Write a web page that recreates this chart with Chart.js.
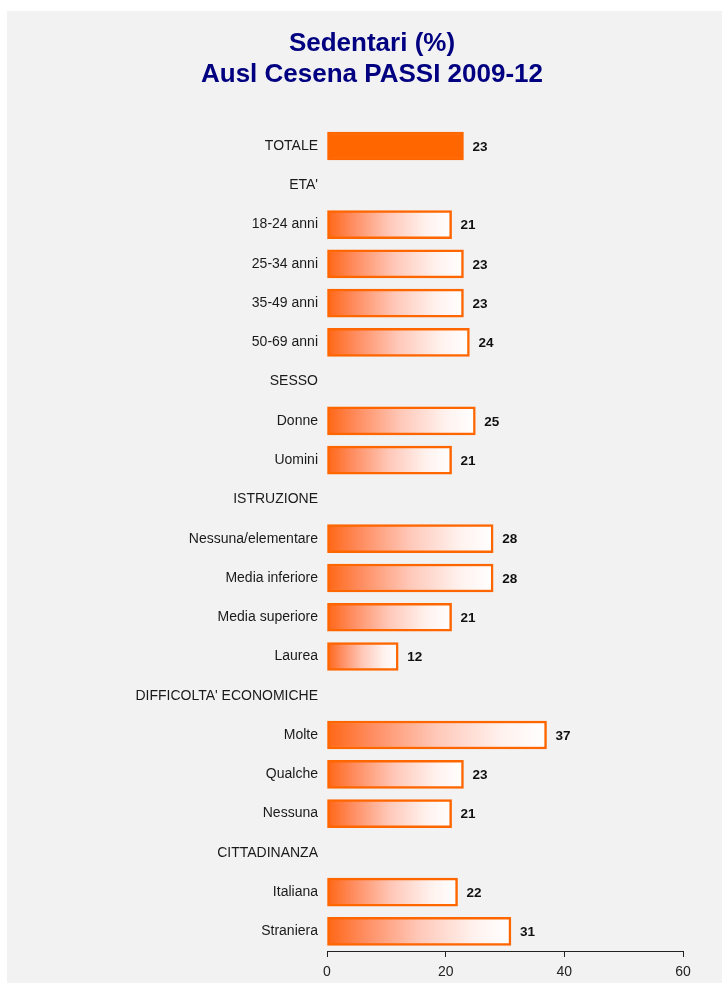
<!DOCTYPE html>
<html>
<head>
<meta charset="utf-8">
<script src="https://cdn.jsdelivr.net/npm/chart.js@4/dist/chart.umd.min.js"></script>
<style>
  html, body { margin: 0; padding: 0; background: #fff; }
  #wrap { position: absolute; left: 0; top: 0; width: 722px; height: 985px; }
</style>
</head>
<body>
<div id="wrap"><canvas id="chart" width="722" height="985"></canvas></div>
<script>
// data
const categories = [
  'TOTALE', "ETA'", '18-24 anni', '25-34 anni', '35-49 anni', '50-69 anni',
  'SESSO', 'Donne', 'Uomini',
  'ISTRUZIONE', 'Nessuna/elementare', 'Media inferiore', 'Media superiore', 'Laurea',
  "DIFFICOLTA' ECONOMICHE", 'Molte', 'Qualche', 'Nessuna',
  'CITTADINANZA', 'Italiana', 'Straniera'
];
const values = [
  23, null, 21, 23, 23, 24,
  null, 25, 21,
  null, 28, 28, 21, 12,
  null, 37, 23, 21,
  null, 22, 31
];
const tickLabels = [0, 20, 40, 60];
const titleLines = ['Sedentari (%)', 'Ausl Cesena PASSI 2009-12'];

const ORANGE = '#ff6600';
const FONT = "'Liberation Sans', Arial, sans-serif";

// gray panel behind the chart
const panelBg = {
  id: 'panelBg',
  beforeDraw(chart) {
    const ctx = chart.ctx;
    ctx.save();
    ctx.fillStyle = '#f2f2f2';
    ctx.fillRect(7, 11, 715, 972);
    ctx.restore();
  }
};

// value labels at the end of bars
const valueLabels = {
  id: 'valueLabels',
  afterDatasetsDraw(chart) {
    const ctx = chart.ctx;
    const meta = chart.getDatasetMeta(0);
    ctx.save();
    ctx.font = 'bold 13.5px ' + FONT;
    ctx.fillStyle = '#111';
    ctx.textBaseline = 'middle';
    meta.data.forEach((bar, i) => {
      if (values[i] == null) return;
      ctx.fillText(String(values[i]), bar.x + 9, bar.y + 1);
    });
    ctx.restore();
  }
};

function barFill(c) {
  const chart = c.chart;
  if (!chart.chartArea || c.type !== 'data') return ORANGE;
  if (categories[c.dataIndex] === 'TOTALE') return ORANGE;
  const xs = chart.scales.x;
  const x0 = xs.getPixelForValue(0);
  const x1 = xs.getPixelForValue(c.raw || 0);
  if (!isFinite(x0) || !isFinite(x1) || x1 <= x0) return ORANGE;
  const g = chart.ctx.createLinearGradient(x0, 0, x1, 0);
  g.addColorStop(0, 'rgb(255,102,20)');
  g.addColorStop(0.2, 'rgb(255,140,95)');
  g.addColorStop(0.5, 'rgb(255,200,185)');
  g.addColorStop(0.8, 'rgb(255,242,238)');
  g.addColorStop(1, '#ffffff');
  return g;
}

new Chart(document.getElementById('chart').getContext('2d'), {
  type: 'bar',
  data: {
    labels: categories,
    datasets: [{
      data: values,
      backgroundColor: barFill,
      borderColor: ORANGE,
      borderWidth: 2.5,
      borderSkipped: false,
      barThickness: 28
    }]
  },
  options: {
    indexAxis: 'y',
    responsive: false,
    animation: false,
    layout: { padding: { left: 61, right: 39, top: 0, bottom: 0 } },
    plugins: {
      legend: { display: false },
      tooltip: { enabled: false },
      title: {
        display: true,
        text: titleLines,
        color: '#000080',
        font: { family: FONT, size: 26, weight: 'bold', lineHeight: 1.2 },
        padding: { top: 28, bottom: 36 }
      }
    },
    scales: {
      x: {
        min: tickLabels[0],
        max: tickLabels[tickLabels.length - 1],
        afterFit: s => { s.height = 34; },
        border: { display: true, color: '#222', width: 1 },
        grid: { display: true, drawOnChartArea: false, drawTicks: true, tickLength: 6, color: '#222' },
        ticks: {
          stepSize: tickLabels[1] - tickLabels[0],
          color: '#222',
          padding: 7,
          font: { family: FONT, size: 14 }
        }
      },
      y: {
        afterFit: s => { s.width = 266; },
        border: { display: false },
        grid: { display: false },
        ticks: {
          color: '#1a1a1a',
          padding: 1,
          autoSkip: false,
          font: { family: FONT, size: 14 }
        }
      }
    }
  },
  plugins: [panelBg, valueLabels]
});
</script>
</body>
</html>
